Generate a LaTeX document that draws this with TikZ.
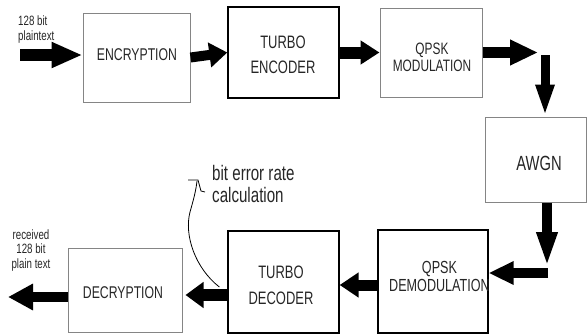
\documentclass[tikz,border=0pt]{standalone}
\usepackage{fontspec}
\setmainfont{Liberation Sans}
\newfontfamily\nf[FakeStretch=0.72]{Liberation Sans}
\usetikzlibrary{arrows.meta}
\definecolor{txt}{HTML}{262626}
\definecolor{gline}{HTML}{858585}
\tikzset{
  gbox/.style={draw=gline, line width=1pt, inner sep=0pt, align=center, text=txt},
  kbox/.style={draw=black, line width=1.3pt, inner sep=0pt, align=center, text=txt},
  lbl/.style={inner sep=0pt, text=txt},
  fat/.style n args={3}{line width=#1, -{Triangle[length=#2,width=#3]}},
}
\begin{document}
\begin{tikzpicture}[x=1pt,y=-1pt]
\useasboundingbox (0,0) rectangle (587,335);
% boxes
\node[gbox, minimum width=107pt, minimum height=89pt] (enc) at (136.5,57.5) {};
\node[kbox, minimum width=111pt, minimum height=91pt] (tenc) at (283.5,52.5) {};
\node[gbox, minimum width=102pt, minimum height=89pt] (mod) at (431,52.5) {};
\node[gbox, minimum width=101pt, minimum height=85pt] (awgn) at (535.5,159.5) {};
\node[kbox, minimum width=110pt, minimum height=103pt] (demod) at (433,281.5) {};
\node[kbox, minimum width=111pt, minimum height=102pt] (tdec) at (283.5,282) {};
\node[gbox, minimum width=114pt, minimum height=84pt] (dec) at (125,290) {};
% box texts
\node[lbl, font=\nf\fontsize{17}{20}\selectfont] (enctxt) at (137,55) {ENCRYPTION};
\node[lbl, align=center, font=\nf\fontsize{18}{25}\selectfont] (tenctxt) at (283,55) {TURBO\\ENCODER};
\node[lbl, align=center, font=\nf\fontsize{16.5}{17.5}\selectfont] (modtxt) at (432,57.5) {QPSK\\MODULATION};
\node[lbl, font=\nf\fontsize{20.5}{22}\selectfont] (awgntxt) at (539,163) {AWGN};
\node[lbl, align=center, font=\nf\fontsize{18}{26}\selectfont] (tdectxt) at (281,285) {TURBO\\DECODER};
\node[lbl, font=\nf\fontsize{17}{20}\selectfont] (dectxt) at (123,293) {DECRYPTION};
% clipped demodulation text
\begin{scope}
\clip (demod.north west) rectangle (demod.south east);
\node[lbl, anchor=west, align=center, font=\nf\fontsize{17.5}{18}\selectfont] (demodtxt) at (389,276) {QPSK\\DEMODULATION};
\end{scope}
% small labels
\node[lbl, anchor=west, align=left, font=\nf\fontsize{13.5}{15}\selectfont] (inlbl) at (18,29.5) {128 bit\\plaintext};
\node[lbl, align=center, font=\nf\fontsize{13.5}{14.5}\selectfont] (outlbl) at (31,250.5) {received\\128 bit\\plain text};
\node[lbl, anchor=west, align=left, text=black!85, font=\nf\fontsize{21}{22}\selectfont] (ber) at (212,184) {bit error rate\\calculation};
% coordinates
\coordinate (in) at (20,55);
\coordinate (c1) at (538,52.5);
\coordinate (c2) at (545,55);
\coordinate (c3) at (547,267);
\coordinate (c4) at (548,273);
\coordinate (out) at (8,297);
% arrows
\draw[fat={12pt}{31pt}{24pt}] (in) -- (in -| enc.west);
\draw[fat={10pt}{18pt}{24pt}] (enc.east) -- (tenc.west);
\draw[fat={12pt}{19pt}{23pt}] (tenc.east) -- (mod.west);
\draw[fat={11pt}{28pt}{24pt}] (mod.east) -- (c1);
\draw[fat={9pt}{32pt}{17pt}] (c2) -- (c2 |- awgn.north);
\draw[fat={9.5pt}{35pt}{19pt}] (awgn.south -| c3) -- (c3);
\draw[fat={10pt}{25pt}{22pt}] (c4) -- (c4 -| demod.east);
\draw[fat={11pt}{19pt}{24pt}] ([yshift=-3.5pt]demod.west) -- ([yshift=-3.5pt]demod.west -| tdec.east);
\draw[fat={12pt}{18pt}{25pt}] ([yshift=-13pt]tdec.west) -- ([yshift=-13pt,xshift=3pt]tdec.west -| dec.east);
\draw[fat={10pt}{25pt}{25pt}] ([yshift=-7pt]dec.west) -- (out);
% bit error rate curve
\coordinate (bs) at ([xshift=-8pt,yshift=-5pt]tdec.west);
\coordinate (be) at (197,181);
\draw[line width=0.8pt] (bs) .. controls (195,268) and (184,235) .. (190,212) .. controls (194,198) and (196,190) .. (be);
\draw[line width=0.8pt] (188,180) -- (198,180) -- (201,191) -- (205,192);
\end{tikzpicture}
\end{document}
